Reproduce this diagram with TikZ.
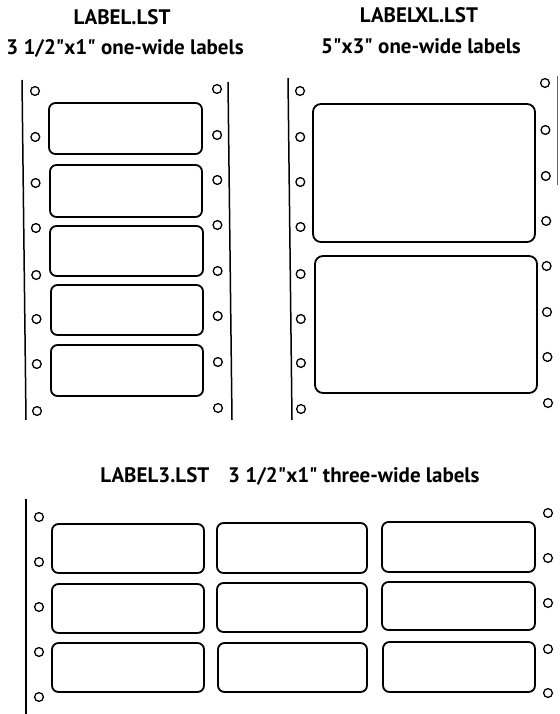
\documentclass[tikz,border=0pt]{standalone}
\usepackage{fontspec}
\setmainfont{PT Sans}[Ligatures=TeXOff]
\begin{document}
\begin{tikzpicture}[x=1pt,y=-1pt,
  lbl/.style={line width=1.8pt, rounded corners=6.5pt},
  biglbl/.style={line width=1.8pt, rounded corners=8pt},
  hole/.style={line width=1.3pt},
  edge/.style={line width=1.5pt},
  ttl/.style={anchor=base, inner sep=0pt, font=\bfseries\fontsize{21}{25}\selectfont}]
\useasboundingbox (0,0) rectangle (559,714);

% ---------- titles ----------
\node[ttl] (t1) at (122,25) {LABEL.LST};
\node[ttl] (t2) at (125,55) {3 1/2"x1" one-wide labels};
\node[ttl] (t3) at (419,23) {LABELXL.LST};
\node[ttl] (t4) at (421,54) {5"x3" one-wide labels};
\node[ttl] (t5) at (290,482) {LABEL3.LST\hspace{0.9em}3 1/2"x1" three-wide labels};

% ---------- top-left panel ----------
\draw[edge] (22,80) -- (26,420);
\draw[edge] (228,82) -- (232,420);
\foreach \y/\x in {91/35,137/35.3,183/35.6,228/35.9,275/36.2,319/36.5,364/36.8,411/37}
  \draw[hole] (\x,\y) circle (4.4);
\foreach \y/\x in {89/217,135/217.1,180/217.3,225/217.4,271/217.6,316/217.7,362/217.9,408/218}
  \draw[hole] (\x,\y) circle (4.4);
\draw[lbl] (49,103) rectangle (202,154);
\draw[lbl] (50,165) rectangle (202,217);
\draw[lbl] (50,226) rectangle (203,276);
\draw[lbl] (51,285) rectangle (203,335);
\draw[lbl] (51,345) rectangle (203,396);

% ---------- top-right panel ----------
\draw[edge] (288,78) -- (292,420);
\draw[line width=1pt, black!60] (557.5,76) -- (557.5,185);
\foreach \y/\x in {91/300,137/300.2,182/300.3,227/300.5,274/300.6,319/300.8,363/300.9,409/301}
  \draw[hole] (\x,\y) circle (4.4);
\foreach \y/\x in {83/545,130/545.4,176/545.8,221/546.2,266/546.6,312/547,357/547.4,403/548}
  \draw[hole] (\x,\y) circle (4.4);
\draw[biglbl] (313,104) rectangle (535,242);
\draw[biglbl] (315,256) rectangle (537,393);

% ---------- bottom panel ----------
\draw[edge] (26,499) -- (26,714);
\foreach \y in {517,562,607,652,697}
  \draw[hole] (39,\y) circle (4.4);
\foreach \y in {513,558,603,649,693}
  \draw[hole] (548,\y) circle (4.4);
\draw[lbl] (52,524) rectangle (204,573);
\draw[lbl] (52,584) rectangle (204,633);
\draw[lbl] (52,643) rectangle (204,692);
\draw[lbl] (217,523) rectangle (367,573);
\draw[lbl] (217,583) rectangle (367,632);
\draw[lbl] (218,643) rectangle (367,692);
\draw[lbl] (382,522) rectangle (535,572);
\draw[lbl] (382,582) rectangle (535,630);
\draw[lbl] (383,642) rectangle (535,692);
\end{tikzpicture}
\end{document}
